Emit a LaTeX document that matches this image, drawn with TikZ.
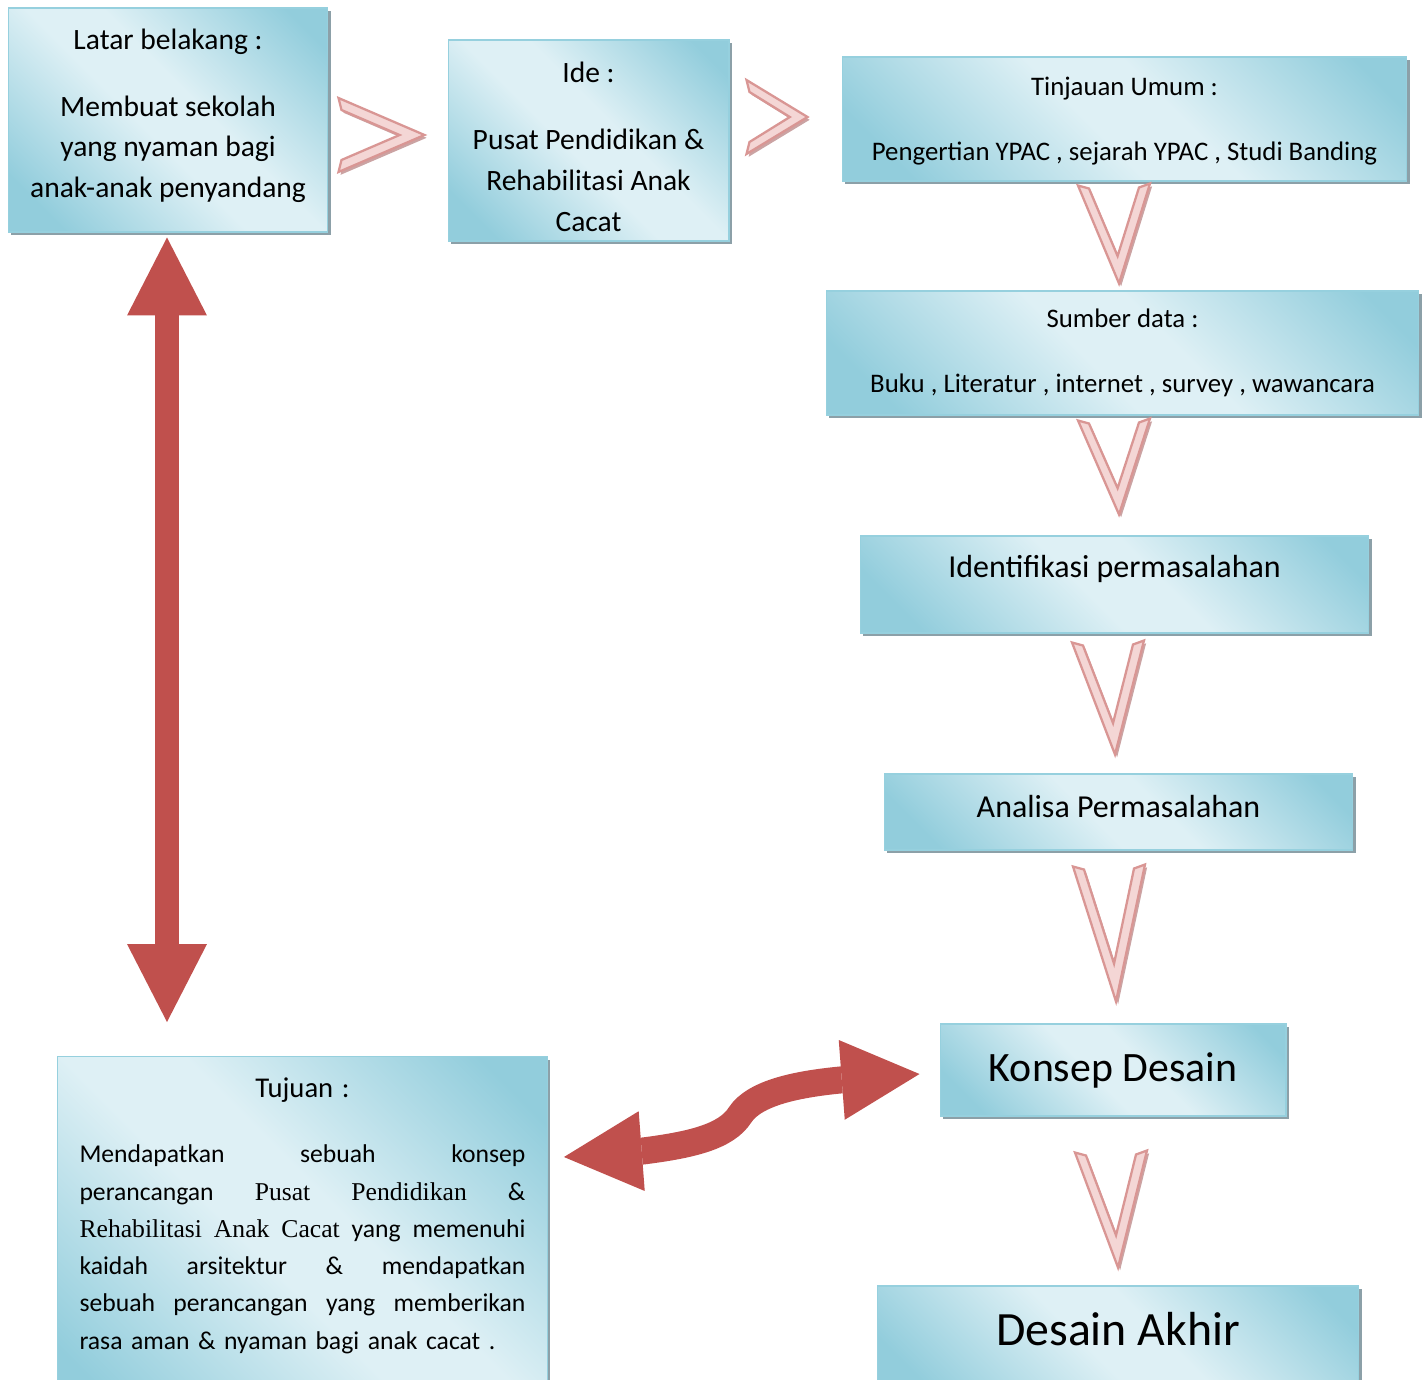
\documentclass[tikz,border=0pt]{standalone}
\usepackage{fontspec}
\setmainfont{Carlito}
\newfontfamily\timesfont{Liberation Serif}
\usetikzlibrary{arrows.meta,calc,shadows,positioning}

\definecolor{aquadark}{RGB}{146,205,220}
\definecolor{aqualight}{RGB}{222,240,245}
\definecolor{aquaedge}{RGB}{150,208,222}
\definecolor{boxshadow}{RGB}{128,150,158}
\definecolor{chevfill}{RGB}{244,214,213}
\definecolor{chevline}{RGB}{217,150,148}
\definecolor{chevshadow}{RGB}{190,140,140}
\definecolor{arrowred}{RGB}{192,80,77}

\pgfdeclarehorizontalshading{aquashade}{100bp}{color(0bp)=(aquadark); color(22bp)=(aquadark); color(46bp)=(aqualight); color(56bp)=(aqualight); color(80bp)=(aquadark); color(100bp)=(aquadark)}

\newcommand\fbody{\fontsize{16.8}{23.2}\selectfont}
\newcommand\fdata{\fontsize{15.25}{18}\selectfont}
\newcommand\fstep{\fontsize{18.2}{22}\selectfont}
\newcommand\fkonsep{\fontsize{23.8}{28}\selectfont}
\newcommand\fakhir{\fontsize{27.2}{32}\selectfont}
\newcommand\ftujuan{\fontsize{14.6}{21.2}\selectfont}
\newcommand\tline[1]{\leavevmode\hbox to 8.92cm{#1}}

% chevron connectors: #1 back centre, #2 tip
\newcommand{\vchev}[2]{%
  \draw[chev] ($(#1)+(-36,0)$) -- (#2) -- ($(#1)+(36,-2)$) -- ($(#1)+(25,2)$)
    -- ($(#1)!0.72!(#2)$) -- ($(#1)+(-25,3)$) -- cycle;}
\newcommand{\hchev}[2]{%
  \draw[chev] ($(#1)+(0,-37)$) -- (#2) -- ($(#1)+(0,37)$) -- ($(#1)+(3,25)$)
    -- ($(#1)!0.71!(#2)$) -- ($(#1)+(3,-25)$) -- cycle;}

\begin{document}
\begin{tikzpicture}[
    x=0.02cm, y=-0.02cm,
    box/.style={rectangle, draw=aquaedge, line width=0.6pt, shade, shading=aquashade, shading angle=45,
        drop shadow={shadow xshift=1.7pt, shadow yshift=-1.7pt, fill=boxshadow, opacity=0.9},
        align=center, inner sep=0pt},
    chev/.style={draw=chevline, line width=1.3pt, fill=chevfill, line join=miter,
        drop shadow={shadow xshift=1.2pt, shadow yshift=-1.6pt, fill=chevshadow, opacity=0.8}},
    bigarrow/.style={draw=arrowred,
        {Triangle[width=1.6cm,length=1.56cm,line width=0pt]}-{Triangle[width=1.6cm,length=1.56cm,line width=0pt]}}
]
\useasboundingbox (0,0) rectangle (1428,1380);

% boxes
\node[box, minimum width=6.4cm, minimum height=4.48cm, font=\fbody] (latar) at (168,120)
    {Latar belakang :\\[14.8pt] Membuat sekolah\\ yang nyaman bagi\\ anak-anak penyandang\rule[-7.6pt]{0pt}{1pt}};
\node[box, minimum width=5.62cm, minimum height=4.02cm, font=\fbody] (ide) at (588.5,140.5)
    {\rule{0pt}{18.6pt}Ide :\\[15.3pt] Pusat Pendidikan \&\\ Rehabilitasi Anak\\ Cacat};
\node[box, minimum width=11.3cm, minimum height=2.48cm, font=\fdata] (tinjau) at (1124.5,119)
    {\rule{0pt}{13pt}Tinjauan Umum :\\[18.9pt] Pengertian YPAC , sejarah YPAC , Studi Banding};
\node[box, minimum width=11.86cm, minimum height=2.48cm, font=\fdata] (sumber) at (1122.5,353)
    {Sumber data :\\[18.9pt] Buku , Literatur , internet , survey , wawancara};
\node[box, minimum width=10.18cm, minimum height=1.94cm, font=\fstep, text height=13.5pt, text depth=21pt] (identif) at (1114.5,584.5)
    {Identifikasi permasalahan};
\node[box, minimum width=9.38cm, minimum height=1.52cm, font=\fstep, text height=12.5pt, text depth=6pt] (analisa) at (1118.5,812)
    {Analisa Permasalahan};
\node[box, minimum width=6.92cm, minimum height=1.84cm, font=\fkonsep] (konsep) at (1113,1070)
    {Konsep Desain};
\node[box, minimum width=9.64cm, minimum height=2.28cm, font=\fakhir, text height=19pt, text depth=16.7pt] (akhir) at (1118,1343)
    {Desain Akhir};
\node[box, anchor=north west, text width=8.92cm, inner xsep=0.44cm, inner ysep=0.42cm, font=\ftujuan] (tujuan) at (57,1056)
    {{\fontsize{16.3}{21.2}\selectfont Tujuan :}\\[16.2pt]
     \tline{Mendapatkan\hfill sebuah\hfill konsep}\\
     \tline{perancangan\hfill {\timesfont Pusat}\hfill {\timesfont Pendidikan}\hfill \&}\\
     \tline{{\timesfont Rehabilitasi}\hfill {\timesfont Anak}\hfill {\timesfont Cacat}\hfill yang\hfill memenuhi}\\
     \tline{kaidah\hfill arsitektur\hfill \&\hfill mendapatkan}\\
     \tline{sebuah\hfill perancangan\hfill yang\hfill memberikan}\\
     \tline{rasa aman \& nyaman bagi anak cacat .\hfill}\rule[-40pt]{0pt}{1pt}};

% chevrons between steps
\coordinate (h1a) at ($(latar.east)+(10,15)$);
\coordinate (h1b) at ($(ide.west)+(-23,-5.5)$);
\coordinate (h2a) at ($(ide.east)+(17,-23.5)$);
\coordinate (h2b) at ($(tinjau.west)+(-34,-2)$);
\hchev{h1a}{h1b}
\hchev{h2a}{h2b}

\coordinate (v1a) at ($(tinjau.south)+(-10.5,4)$);
\coordinate (v1b) at ($(sumber.north)+(-3.5,-7)$);
\coordinate (v2a) at ($(sumber.south)+(-8.5,5)$);
\coordinate (v2b) at ($(identif.north)+(4.5,-21)$);
\coordinate (v3a) at ($(identif.south)+(-6.5,9)$);
\coordinate (v3b) at ($(analisa.north)+(-3.5,-19)$);
\coordinate (v4a) at ($(analisa.south)+(-9.5,16)$);
\coordinate (v4b) at ($(konsep.north)+(3,-22)$);
\coordinate (v5a) at ($(konsep.south)+(-2,36)$);
\coordinate (v5b) at ($(akhir.north)+(0,-18)$);
\vchev{v1a}{v1b}
\vchev{v2a}{v2b}
\vchev{v3a}{v3b}
\vchev{v4a}{v4b}
\vchev{v5a}{v5b}

% big red arrows
\coordinate (vtip) at (167,1022);
\draw[bigarrow, line width=0.5cm] ($(latar.south)+(-1,5)$) -- (vtip);

\coordinate (ltip) at ($(tujuan.north east)+(16,101)$);
\coordinate (rtip) at ($(konsep.west)+(-20,4)$);
\draw[bigarrow, line width=0.54cm] (ltip) -- (643,1151)
    .. controls (690,1145) and (726,1137) .. (740,1115)
    .. controls (755,1092) and (800,1084) .. (840,1080) -- (rtip);

\end{tikzpicture}
\end{document}
